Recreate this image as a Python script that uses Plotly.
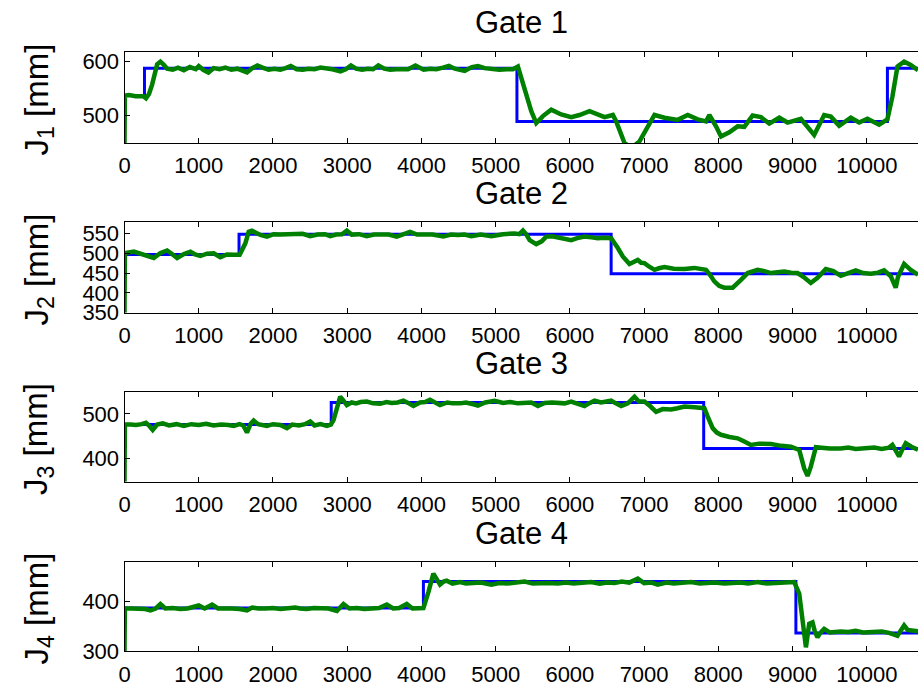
import plotly.graph_objects as go

W, H = 918, 684

# ---------------- data ----------------
x_ticks = [0, 1000, 2000, 3000, 4000, 5000, 6000, 7000, 8000, 9000, 10000]
titles = ["Gate 1", "Gate 2", "Gate 3", "Gate 4"]
ylabels = ["J<sub>1</sub> [mm]", "J<sub>2</sub> [mm]", "J<sub>3</sub> [mm]", "J<sub>4</sub> [mm]"]
y_ranges = [[449, 618], [350, 578], [347, 549], [300, 480]]
y_ticks = [[500, 600], [350, 400, 450, 500, 550], [400, 500], [300, 400]]

# reference (step) signals
ref1_x = [0, 269, 5287, 10278, 10690]
ref1_y = [537, 588, 489, 588, 588]
ref2_x = [0, 1543, 6556, 10690]
ref2_y = [497, 548, 448, 448]
ref3_x = [0, 2785, 7803, 10690]
ref3_y = [476, 526, 422, 422]
ref4_x = [0, 4027, 9045, 10690]
ref4_y = [387, 440, 337, 337]

meas1_x = [0, 5, 60, 150, 255, 290, 330, 371, 440, 484, 530, 574, 650, 720, 800, 880, 960, 1000, 1060, 1130,
           1200, 1280, 1360, 1440, 1520, 1600, 1650, 1720, 1790, 1860, 1940, 2020, 2100, 2170, 2240, 2320, 2400,
           2480, 2560, 2640, 2720, 2800, 2910, 2980, 3050, 3120, 3200, 3280, 3350, 3420, 3500, 3580, 3660, 3740,
           3820, 3920, 4030, 4120, 4200, 4290, 4370, 4450, 4583, 4680, 4762, 4850, 4942, 5050, 5150, 5233, 5300,
           5390, 5480, 5547, 5637, 5749, 5883, 6018, 6130, 6265, 6377, 6467, 6579, 6624, 6736, 6830, 6938, 7050,
           7140, 7274, 7453, 7588, 7722, 7834, 7879, 7969, 8036, 8148, 8260, 8350, 8462, 8574, 8686, 8821, 8933,
           9112, 9202, 9291, 9426, 9516, 9628, 9785, 9897, 10009, 10166, 10278, 10345, 10413, 10503, 10592, 10690]
meas1_y = [449, 537, 538, 536, 536, 532, 540, 557, 595, 600, 594, 587, 585, 589, 584, 590, 586, 592, 585, 580,
           588, 586, 589, 585, 587, 584, 580, 588, 593, 589, 585, 587, 585, 588, 592, 586, 585,
           587, 586, 589, 588, 586, 582, 586, 593, 587, 585, 587, 586, 593, 587, 585, 586, 587,
           586, 593, 585, 587, 586, 589, 592, 587, 583, 590, 592, 588, 586, 585, 586, 586, 591,
           548, 508, 486, 499, 511, 502, 497, 501, 508, 501, 497, 501, 489, 449, 440, 452, 481,
           501, 496, 492, 501, 493, 489, 501, 480, 461, 469, 480, 479, 500, 497, 485, 496, 487,
           494, 480, 464, 501, 498, 481, 496, 487, 494, 483, 493, 535, 591, 600, 594, 584]

meas2_x = [0, 5, 126, 260, 395, 480, 574, 640, 709, 800, 888, 950, 1022, 1110, 1202, 1291, 1380, 1471, 1551,
           1628, 1673, 1717, 1770, 1830, 1919, 2009, 2100, 2200, 2300, 2400, 2502, 2600, 2700, 2771, 2850, 2930,
           2995, 3060, 3160, 3264, 3360, 3460, 3560, 3667, 3760, 3847, 3940, 4050, 4150, 4295, 4400, 4493, 4580,
           4673, 4800, 4942, 5100, 5256, 5320, 5368, 5410, 5458, 5547, 5620, 5682, 5760, 5839, 5930, 6018, 6100,
           6197, 6290, 6377, 6460, 6556, 6646, 6713, 6803, 6860, 6915, 6960, 7005, 7070, 7140, 7200, 7274, 7400,
           7543, 7677, 7760, 7834, 7890, 7946, 8010, 8081, 8193, 8250, 8305, 8395, 8460, 8529, 8620, 8709, 8800,
           8888, 8980, 9067, 9150, 9246, 9336, 9448, 9550, 9650, 9750, 9852, 9950, 10054, 10150, 10233, 10323,
           10390, 10420, 10458, 10503, 10550, 10592, 10690]
meas2_y = [350, 500, 504, 496, 488, 500, 507, 498, 488, 498, 504, 497, 493, 499, 500, 490, 497, 496, 496,
           525, 554, 557, 552, 546, 542, 548, 547, 548, 547, 549, 543, 547, 548, 543, 547, 548,
           557, 547, 548, 543, 547, 548, 547, 542, 547, 554, 547, 548, 547, 542, 547, 546, 547,
           543, 547, 543, 548, 550, 548, 557, 548, 533, 523, 530, 542, 543, 540, 538, 533, 538,
           542, 540, 538, 539, 538, 513, 492, 473, 478, 483, 476, 475, 466, 458, 462, 465, 461,
           460, 463, 460, 458, 445, 429, 418, 413, 413, 422, 433, 450, 455, 458, 455, 450, 452,
           454, 451, 450, 440, 425, 438, 460, 455, 443, 450, 457, 450, 448, 451, 457, 442,
           413, 440, 458, 473, 465, 458, 446]

meas3_x = [0, 5, 80, 155, 230, 290, 330, 380, 440, 515, 600, 700, 800, 900, 1000, 1100, 1200, 1300, 1400,
           1471, 1550, 1600, 1650, 1700, 1740, 1800, 1919, 2000, 2100, 2188, 2260, 2350, 2430, 2502, 2560, 2640,
           2726, 2780, 2816, 2861, 2906, 2950, 2995, 3060, 3120, 3180, 3264, 3350, 3443, 3530, 3600, 3680, 3757,
           3820, 3892, 3980, 4050, 4116, 4180, 4250, 4350, 4420, 4520, 4600, 4700, 4762, 4860, 4987, 5100, 5200,
           5300, 5391, 5480, 5570, 5660, 5760, 5839, 5930, 6018, 6100, 6197, 6270, 6332, 6420, 6500, 6556, 6620,
           6691, 6780, 6870, 6930, 7005, 7080, 7162, 7250, 7364, 7450, 7543, 7680, 7812, 7857, 7924, 7980, 8036,
           8150, 8260, 8350, 8439, 8550, 8709, 8850, 8978, 9090, 9157, 9202, 9246, 9314, 9400, 9500, 9650, 9750,
           9850, 10009, 10100, 10200, 10300, 10345, 10390, 10435, 10480, 10525, 10600, 10690]
meas3_y = [347, 476, 476, 475, 477, 480, 474, 464, 476, 479, 474, 477, 473, 477, 475, 478, 474, 476, 475,
           473, 477, 474, 458, 478, 485, 477, 473, 477, 475, 468, 476, 474, 477, 483, 474, 477,
           473, 476, 486, 513, 539, 530, 520, 526, 524, 527, 528, 524, 523, 527, 525, 526, 530,
           525, 518, 526, 527, 532, 525, 520, 526, 524, 524, 526, 522, 519, 526, 530, 525, 527,
           524, 524, 526, 518, 525, 526, 526, 524, 528, 524, 518, 525, 530, 526, 527, 530, 524,
           518, 524, 539, 528, 528, 518, 505, 511, 510, 513, 517, 515, 513, 494, 468, 458, 453,
           448, 445, 438, 430, 433, 432, 428, 426, 419, 377, 360, 381, 425, 423, 422, 422, 424,
           421, 422, 424, 421, 424, 430, 418, 404, 420, 434, 426, 419]

meas4_x = [0, 5, 100, 200, 280, 349, 420, 484, 550, 650, 750, 850, 930, 1000, 1080, 1180, 1260, 1350, 1450,
           1550, 1650, 1720, 1800, 1900, 2000, 2100, 2200, 2300, 2367, 2450, 2550, 2650, 2750, 2861, 2950, 3030,
           3130, 3230, 3330, 3430, 3533, 3620, 3700, 3802, 3880, 3960, 4027, 4094, 4161, 4210, 4251, 4300, 4340,
           4420, 4520, 4600, 4700, 4800, 4942, 5050, 5150, 5250, 5391, 5500, 5600, 5700, 5839, 5950, 6050, 6150,
           6287, 6400, 6500, 6600, 6700, 6800, 6915, 7000, 7100, 7184, 7300, 7400, 7500, 7633, 7750, 7850, 7950,
           8081, 8200, 8300, 8400, 8529, 8650, 8750, 8850, 8950, 9022, 9090, 9135, 9180, 9224, 9269, 9300, 9336,
           9380, 9426, 9500, 9650, 9750, 9850, 9950, 10099, 10200, 10300, 10413, 10450, 10503, 10550, 10592, 10690]
meas4_y = [300, 386, 386, 386, 385, 382, 386, 395, 386, 387, 385, 386, 388, 392, 386, 394, 386, 387, 386,
           385, 382, 388, 386, 386, 387, 385, 386, 388, 386, 385, 387, 386, 386, 381, 395, 386,
           387, 385, 386, 387, 394, 386, 387, 395, 386, 386, 387, 419, 456, 444, 434, 440, 442,
           436, 439, 436, 437, 438, 434, 437, 436, 438, 440, 436, 437, 437, 436, 438, 436, 437,
           439, 436, 438, 437, 440, 438, 446, 437, 438, 434, 438, 436, 437, 439, 436, 437, 438,
           436, 437, 438, 436, 439, 436, 437, 438, 437, 439, 416, 355, 308, 355, 358, 340, 328,
           338, 345, 338, 340, 339, 341, 338, 338, 340, 337, 331, 340, 352, 343, 342, 340]

refs = [(ref1_x, ref1_y), (ref2_x, ref2_y), (ref3_x, ref3_y), (ref4_x, ref4_y)]
meas = [(meas1_x, meas1_y), (meas2_x, meas2_y), (meas3_x, meas3_y), (meas4_x, meas4_y)]

# ---------------- layout geometry (pixels) ----------------
plot_top = [52, 222.3, 392.3, 561.7]
plot_bot = [143, 312.7, 481.7, 651.3]
title_cy = [23, 193, 363, 533]
left_px = 124.5

FONT = "Liberation Sans, Arial, Helvetica, sans-serif"
BLUE = "#0000ff"
GREEN = "#008000"

fig = go.Figure()
layout = dict(
    width=W, height=H,
    margin=dict(l=0, r=0, t=0, b=0, autoexpand=False),
    paper_bgcolor="white", plot_bgcolor="white",
    showlegend=False,
    font=dict(family=FONT, color="black", size=22),
    annotations=[],
)

for i in range(4):
    n = "" if i == 0 else str(i + 1)
    xa, ya = "x" + n, "y" + n
    rx, ry = refs[i]
    mx, my = meas[i]
    fig.add_trace(go.Scatter(x=rx, y=ry, mode="lines", line=dict(color=BLUE, width=3, shape="hv"),
                             xaxis=xa, yaxis=ya, hoverinfo="skip"))
    fig.add_trace(go.Scatter(x=mx, y=my, mode="lines", line=dict(color=GREEN, width=4.5),
                             xaxis=xa, yaxis=ya, hoverinfo="skip"))
    layout["xaxis" + n] = dict(
        domain=[left_px / W, 1.0], range=[0, 10690], anchor=ya,
        tickvals=x_ticks, ticktext=[str(v) for v in x_ticks],
        ticks="inside", ticklen=5, tickcolor="black", tickwidth=1,
        showline=True, linecolor="black", linewidth=1, mirror="ticks",
        showgrid=False, zeroline=False, automargin=False,
        tickfont=dict(size=22, family=FONT, color="black"),
        ticklabelstandoff=3,
    )
    layout["yaxis" + n] = dict(
        domain=[1 - plot_bot[i] / H, 1 - plot_top[i] / H], range=y_ranges[i], anchor=xa,
        tickvals=y_ticks[i], ticks="inside", ticklen=5, tickcolor="black", tickwidth=1,
        showline=True, linecolor="black", linewidth=1, mirror=False,
        showgrid=False, zeroline=False, automargin=False,
        tickfont=dict(size=22, family=FONT, color="black"),
    )
    layout["annotations"].append(dict(
        text=titles[i], xref="paper", yref="paper", x=521 / W, y=1 - title_cy[i] / H,
        xanchor="center", yanchor="middle", showarrow=False,
        font=dict(size=31, family=FONT, color="black")))
    cy = (plot_top[i] + plot_bot[i]) / 2 + 2
    layout["annotations"].append(dict(
        text=ylabels[i], xref="paper", yref="paper", x=38 / W, y=1 - cy / H,
        xanchor="center", yanchor="middle", textangle=-90, showarrow=False,
        font=dict(size=33, family=FONT, color="black")))

fig.update_layout(**layout)
fig.write_html(
    "out.html",
    config={"displayModeBar": False},
    post_script="document.body.style.margin='0';document.body.style.overflow='hidden';",
)
